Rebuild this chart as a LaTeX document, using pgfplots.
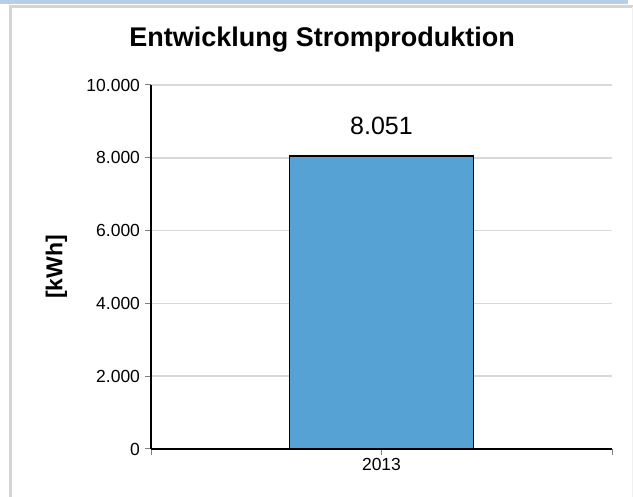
\documentclass[border=0pt]{standalone}
\usepackage{fontspec}
\setmainfont{Liberation Sans}
\usepackage{pgfplots}
\pgfplotsset{compat=1.18}
\definecolor{barblue}{RGB}{86,162,212}
\definecolor{gridgray}{RGB}{217,217,217}
\definecolor{frameblue}{RGB}{185,205,229}
\definecolor{framegray}{RGB}{212,212,212}
\begin{document}
\begin{tikzpicture}
\useasboundingbox (0,0) rectangle (633bp,497bp);
\fill[white] (0,0) rectangle (633bp,497bp);
\fill[frameblue] (0,493bp) rectangle (628bp,497bp);
\draw[framegray, line width=3bp] (10.5bp,0) -- (10.5bp,490bp) -- (633bp,490bp);
\draw[gray!12, line width=1bp] (632bp,0) -- (632bp,490bp);
\begin{axis}[
  at={(151bp,48bp)}, anchor=south west,
  scale only axis, width=461bp, height=364bp,
  xmin=-0.5, xmax=0.5, ymin=0, ymax=10000,
  ybar, bar width=184bp,
  xtick={-0.5,0,0.5}, xticklabels={,2013,},
  ytick={0,2000,4000,6000,8000,10000},
  axis x line*=bottom, axis y line*=left,
  axis line style={-, line width=2bp, black},
  tick align=outside, major tick length=6bp,
  tick style={line width=1bp, gray},
  ymajorgrids, grid style={line width=1.5bp, gridgray},
  scaled y ticks=false,
  /pgf/number format/1000 sep={.},
  /pgf/number format/assume math mode=true,
  ticklabel style={font=\fontsize{17.5bp}{20bp}\selectfont},
  yticklabel style={xshift=-1.5bp},
  title={Entwicklung Stromproduktion},
  title style={font=\fontsize{27bp}{32bp}\selectfont\bfseries,
    at={(axis description cs:0.371,1)}, anchor=base, yshift=33bp},
  ylabel={[kWh]},
  ylabel style={font=\fontsize{23bp}{27bp}\selectfont\bfseries,
    at={(axis description cs:-0.205,0.5)}, anchor=center},
  nodes near coords,
  every node near coord/.append style={font=\fontsize{25bp}{30bp}\selectfont,
    anchor=base, yshift=21bp, black},
]
\addplot[fill=barblue, draw=black, line width=1.2bp] coordinates {(0,8051)};
\end{axis}
\end{tikzpicture}
\end{document}
